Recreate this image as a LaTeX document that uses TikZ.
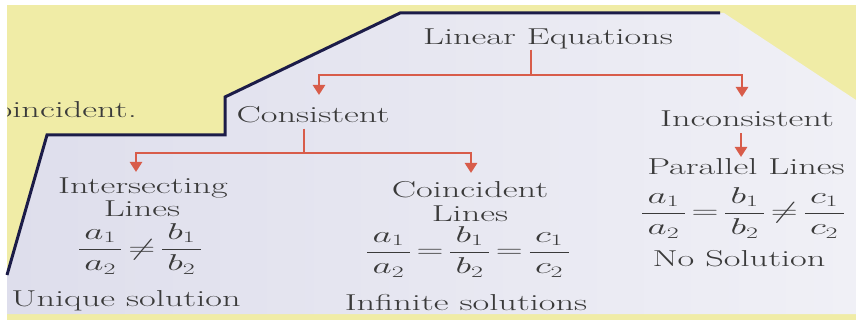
\documentclass[tikz,border=0pt]{standalone}
\usepackage{amsmath}
\usetikzlibrary{arrows.meta,calc}
\definecolor{bgyellow}{RGB}{240,236,166}
\definecolor{panelL}{RGB}{222,222,236}
\definecolor{panelR}{RGB}{240,240,246}
\definecolor{outline}{RGB}{28,28,72}
\definecolor{redln}{RGB}{216,92,74}
\definecolor{txtgray}{RGB}{58,58,58}
\newcommand\wx[1]{\scalebox{1.58}[1]{#1}}
\newcommand\wm[1]{\scalebox{1.5}[0.92]{\thickmuskip=2.5mu $#1$}}
\newcommand\fr[2]{\dfrac{\mkern2.5mu#1\mkern2.5mu}{\mkern2.5mu#2\mkern2.5mu}}
\tikzset{
  txt/.style={font=\fontsize{23}{27}\selectfont, text=txtgray, inner sep=0pt, anchor=base},
  redline/.style={draw=redln, line width=2.6pt},
  redarrow/.style={draw=redln, line width=2.6pt, -{Triangle[width=12pt,length=10pt]}},
}
\begin{document}
\begin{tikzpicture}[x=1pt,y=-1pt]
\useasboundingbox (0,0) rectangle (856,320);
\fill[white] (0,0) rectangle (856,320);
\fill[bgyellow] (7,5) rectangle (856,320);
\path[left color=panelL, right color=panelR]
  (7,275) -- (47,135) -- (225,135) -- (225,97) -- (400,13) -- (724,13)
  -- (856,100) -- (856,314) -- (7,314) -- cycle;
\draw[outline, line width=3pt, line join=miter]
  (7,275) -- (47,135) -- (225,135) -- (225,97) -- (400,13) -- (720,13);
\begin{scope}
  \clip (7,80) rectangle (200,140);
  \node[txt, anchor=base east] (prev) at (137,118) {\wx{Coincident.}};
\end{scope}
% nodes
\node[txt] (lin) at (548,45) {\wx{Linear Equations}};
\node[txt] (con) at (313,123) {\wx{Consistent}};
\node[txt] (inc) at (747,127) {\wx{Inconsistent}};
\node[txt] (par) at (746,175) {\wx{Parallel Lines}};
\node[txt] (fpar) at (743,219) {\wm{\fr{a_1}{a_2}=\fr{b_1}{b_2}\neq\fr{c_1}{c_2}}};
\node[txt] (nos) at (739,266) {\wx{No Solution}};
\node[txt] (int1) at (143,194) {\wx{Intersecting}};
\node[txt] (int2) at (142,217) {\wx{Lines}};
\node[txt] (fint) at (140,255) {\wm{\fr{a_1}{a_2}\neq\fr{b_1}{b_2}}};
\node[txt] (uni) at (126,306) {\wx{Unique solution}};
\node[txt] (coi1) at (470,198) {\wx{Coincident}};
\node[txt] (coi2) at (470,222) {\wx{Lines}};
\node[txt] (fcoi) at (468,258) {\wm{\fr{a_1}{a_2}=\fr{b_1}{b_2}=\fr{c_1}{c_2}}};
\node[txt] (inf) at (466,310) {\wx{Infinite solutions}};
% junctions and arrow ends
\coordinate (j1) at (531,75);
\coordinate (t1) at (319,95);
\coordinate (t2) at (742,97);
\coordinate (j2) at (304,153);
\coordinate (t3) at (136,172);
\coordinate (t4) at (471,173);
\coordinate (t5) at (741,157);
% connectors
\draw[redline] (lin.south -| j1) -- (j1);
\draw[redarrow] (j1) -| (t1);
\draw[redarrow] (j1) -| (t2);
\draw[redline, shorten <=5pt] (con.south -| j2) -- (j2);
\draw[redarrow] (j2) -| (t3);
\draw[redarrow] (j2) -| (t4);
\draw[redarrow, shorten <=6pt] (inc.south -| t5) -- (t5);
\end{tikzpicture}
\end{document}
